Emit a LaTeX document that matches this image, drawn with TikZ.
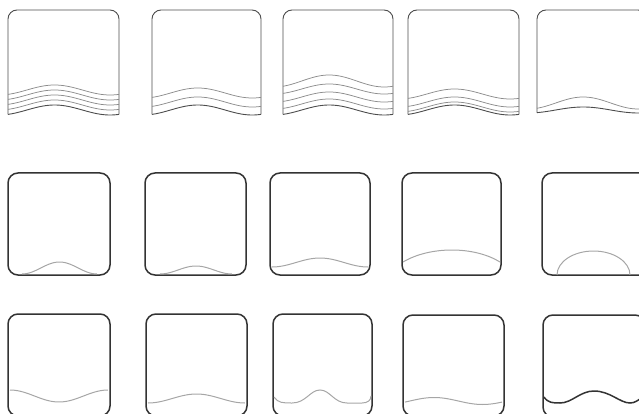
\documentclass[tikz,border=0pt]{standalone}
\usepackage{tikz}
\usetikzlibrary{positioning}

% one towel of the top row: x, width, amplitude of the bottom edge, inner waves (offset/amplitude)
\newcommand{\stackbox}[4]{%
  \draw[boxline, rounded corners=9] (#1,{110+0.876*#3}) -- (#1,10) -- (#1+#2,10) -- (#1+#2,{110+0.876*#3});
  \draw[boxline] plot[domain=0:1, samples=50, variable=\t] ({#1+#2*\t},{110-#3*sin(360*(\t-0.17))});
  \foreach \off/\amp in {#4}
    \draw[waveline] plot[domain=0:1, samples=50, variable=\t] ({#1+#2*\t},{110-\off-\amp*sin(360*(\t-0.17))});
}

\begin{document}
\begin{tikzpicture}[x=1pt, y=-1pt,
    boxline/.style={draw=black!70, line width=0.9pt},
    waveline/.style={draw=black!45, line width=0.75pt},
    frame/.style={draw=black!80, line width=1.5pt, rounded corners=10},
    curve/.style={draw=black!35, line width=1pt}]
    \clip (0,0) rectangle (639,414);

    % Top row: stacked waves
    \stackbox{8}{111}{5}{5/5, 10/5, 15/5, 20/5}
    \stackbox{152}{109}{5}{8/5, 17/5}
    \stackbox{283}{110}{5}{6/5, 13/5, 21/5, 29/6}
    \stackbox{408}{111}{5}{3/5, 8/5, 16/5}
    \stackbox{537}{110}{3}{7/6}

    % Middle row: frames
    \draw[frame] (8,173) rectangle (110,275);
    \draw[frame] (145,173) rectangle (246,275);
    \draw[frame] (270,173) rectangle (370,275);
    \draw[frame] (402,173) rectangle (501,275);
    \draw[frame] (542,173) rectangle (652,275);

    % Middle row: bumps and arcs
    \draw[curve] plot[domain=0:1, samples=40, variable=\t] ({22+75*\t},{274-12*(1-cos(360*\t))/2});
    \draw[curve] plot[domain=0:1, samples=40, variable=\t] ({160+72*\t},{274-8*(1-cos(360*\t))/2});
    \draw[curve] plot[domain=0:1, samples=40, variable=\t] ({272+96*\t},{267-9*(1-cos(360*\t))/2});
    \draw[curve] (403,262) .. controls (430,246) and (474,246) .. (500,262);
    \draw[curve] (557,275) arc[start angle=180, end angle=360, x radius=36.5, y radius=24];

    % Bottom row: frames
    \draw[frame] (8,314) rectangle (110,416);
    \draw[frame] (146,314) rectangle (247,416);
    \draw[frame] (273,314) rectangle (372,416);
    \draw[frame] (403,315) rectangle (504,416);
    \draw[frame] (543,315) rectangle (645,417);

    % Bottom row: waves
    \draw[curve] plot[domain=0:1, samples=40, variable=\t] ({10+98*\t},{396-6*cos(360*\t)});
    \draw[curve] plot[domain=0:1, samples=40, variable=\t] ({148+97*\t},{403-9*(1-cos(360*\t))/2});
    \draw[curve] (274,397) .. controls (278,403) and (283,403) .. (292,403)
        .. controls (306,403) and (310,390) .. (320,390)
        .. controls (330,390) and (334,403) .. (347,403) -- (362,403)
        .. controls (368,403) and (371,400) .. (371,396);
    \draw[curve] plot[domain=0:1, samples=40, variable=\t] ({405+97*\t},{401-3.5*sin(360*(\t-0.05))});
    \draw[frame, rounded corners=0] (544,397) .. controls (548,403) and (553,403) .. (560,403)
        .. controls (572,403) and (580,391) .. (594,391)
        .. controls (610,391) and (620,403) .. (630,403)
        .. controls (635,403) and (638,400) .. (640,399);
\end{tikzpicture}
\end{document}
